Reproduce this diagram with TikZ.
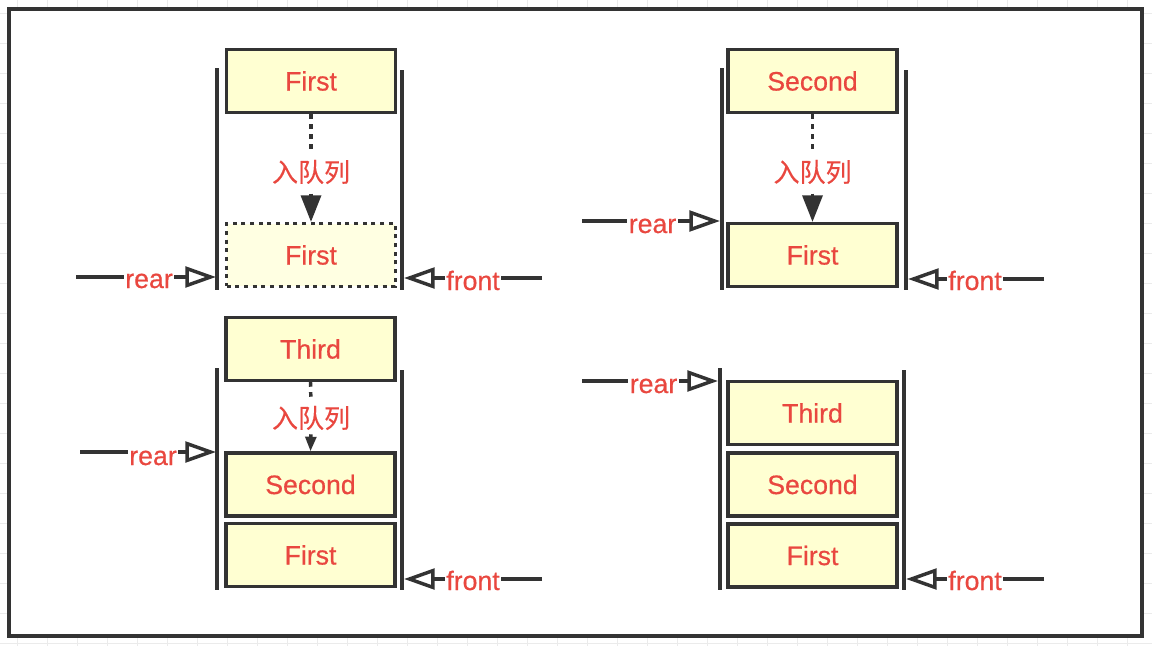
\documentclass[tikz,border=0pt]{standalone}
\usepackage{fontspec}
\setmainfont{Liberation Sans}[FakeBold=0.5]
\newfontfamily\cjk{Noto Sans CJK SC}[FakeBold=0.3]
\usetikzlibrary{arrows.meta}
\definecolor{dark}{HTML}{333333}
\definecolor{qred}{HTML}{E9473F}
\definecolor{boxfill}{HTML}{FFFFD2}
\definecolor{ghostfill}{HTML}{FFFFE2}
\definecolor{gridc}{HTML}{EBEBEB}
\tikzset{
  qbox/.style={draw=dark, line width=2.6pt, fill=boxfill, minimum width=126.5pt,
    minimum height=47pt, inner sep=0pt, text=qred, font=\fontsize{20}{24}\selectfont},
  ghost/.style={qbox, fill=ghostfill, dash pattern=on 3pt off 3.5pt},
  wall/.style={draw=dark, line width=2.6pt},
  conn/.style={draw=dark, line width=2.6pt},
  ptr/.style={conn, -{Triangle[open, length=23pt, width=15.5pt]}},
  ptrlabel/.style={text=qred, font=\fontsize{20}{24}\selectfont, inner sep=1pt, anchor=base},
  enq/.style={text=qred, font=\cjk\fontsize{19.5}{23}\selectfont, inner sep=0pt},
  dotline/.style={draw=dark, line width=2.6pt, dash pattern=on 3.5pt off 4pt},
  push/.style={conn, -{Triangle[length=20pt, width=15pt]}},
  pushsmall/.style={conn, -{Triangle[length=11pt, width=8pt]}}
}
\begin{document}
\begin{tikzpicture}[x=0.75pt,y=-0.75pt]
\useasboundingbox (0,0) rectangle (1152,646);
% background grid
\foreach \gx in {17,47,...,1150} \draw[gridc, line width=0.75pt] (\gx,0) -- (\gx,646);
\foreach \gy in {13,43,...,646} \draw[gridc, line width=0.75pt] (0,\gy) -- (1152,\gy);
% frame
\draw[dark, line width=2.6pt, fill=white] (9,9) rectangle (1142,636);

% ---------- Panel 1 ----------
\draw[wall] (217,68) -- (217,290);
\draw[wall] (402,70) -- (402,290);
\node[qbox] (a1) at (311,81) {First};
\node[ghost] (a2) at (311,255) {First};
\node[enq] (e1) at (311,172) {入队列};
\draw[dotline, shorten >=8pt] (a1.south) -- (e1.north);
\draw[push, shorten <=7pt] (e1.south) -- (a2.north);
\coordinate (rs1) at (76,277);
\coordinate (rt1) at (216,277);
\node[ptrlabel] (r1) at (149,288) {rear};
\draw[conn] (rs1) -- (rs1 -| r1.west);
\draw[ptr] (rs1 -| r1.east) -- (rt1);
\coordinate (fs1) at (542,278);
\coordinate (ft1) at (404,278);
\node[ptrlabel] (f1) at (473,290) {front};
\draw[conn] (fs1) -- (fs1 -| f1.east);
\draw[ptr] (fs1 -| f1.west) -- (ft1);

% ---------- Panel 2 ----------
\draw[wall] (722,68) -- (722,290);
\draw[wall] (906,70) -- (906,290);
\node[qbox] (b1) at (812.5,81) {Second};
\node[qbox] (b2) at (812.5,255) {First};
\node[enq] (e2) at (812.5,172) {入队列};
\draw[dotline, shorten >=8pt] (b1.south) -- (e2.north);
\draw[push, shorten <=7pt] (e2.south) -- (b2.north);
\coordinate (rs2) at (582,221);
\coordinate (rt2) at (720,221);
\node[ptrlabel] (r2) at (652.5,233) {rear};
\draw[conn] (rs2) -- (rs2 -| r2.west);
\draw[ptr] (rs2 -| r2.east) -- (rt2);
\coordinate (fs2) at (1044,279);
\coordinate (ft2) at (908,279);
\node[ptrlabel] (f2) at (975,290) {front};
\draw[conn] (fs2) -- (fs2 -| f2.east);
\draw[ptr] (fs2 -| f2.west) -- (ft2);

% ---------- Panel 3 ----------
\draw[wall] (217,368) -- (217,590);
\draw[wall] (402,370) -- (402,590);
\node[qbox] (c3) at (310.5,349) {Third};
\node[qbox] (c2) at (310.5,484.5) {Second};
\node[qbox] (c1) at (310.5,555) {First};
\node[enq] (e3) at (311,418) {入队列};
\draw[dotline, shorten >=4pt] (c3.south) -- (e3.north);
\draw[pushsmall, shorten <=3pt] (e3.south) -- (c2.north);
\coordinate (rs3) at (80,452);
\coordinate (rt3) at (216,452);
\node[ptrlabel] (r3) at (153,465) {rear};
\draw[conn] (rs3) -- (rs3 -| r3.west);
\draw[ptr] (rs3 -| r3.east) -- (rt3);
\coordinate (fs3) at (542,579);
\coordinate (ft3) at (404,579);
\node[ptrlabel] (f3) at (473,590) {front};
\draw[conn] (fs3) -- (fs3 -| f3.east);
\draw[ptr] (fs3 -| f3.west) -- (ft3);

% ---------- Panel 4 ----------
\draw[wall] (720,368) -- (720,590);
\draw[wall] (904,370) -- (904,590);
\node[qbox] (d3) at (812.5,413) {Third};
\node[qbox] (d2) at (812.5,484.5) {Second};
\node[qbox] (d1) at (812.5,555.5) {First};
\coordinate (rs4) at (582,381);
\coordinate (rt4) at (718,381);
\node[ptrlabel] (r4) at (653.5,393) {rear};
\draw[conn] (rs4) -- (rs4 -| r4.west);
\draw[ptr] (rs4 -| r4.east) -- (rt4);
\coordinate (fs4) at (1044,579);
\coordinate (ft4) at (906,579);
\node[ptrlabel] (f4) at (975,590) {front};
\draw[conn] (fs4) -- (fs4 -| f4.east);
\draw[ptr] (fs4 -| f4.west) -- (ft4);
\end{tikzpicture}
\end{document}
